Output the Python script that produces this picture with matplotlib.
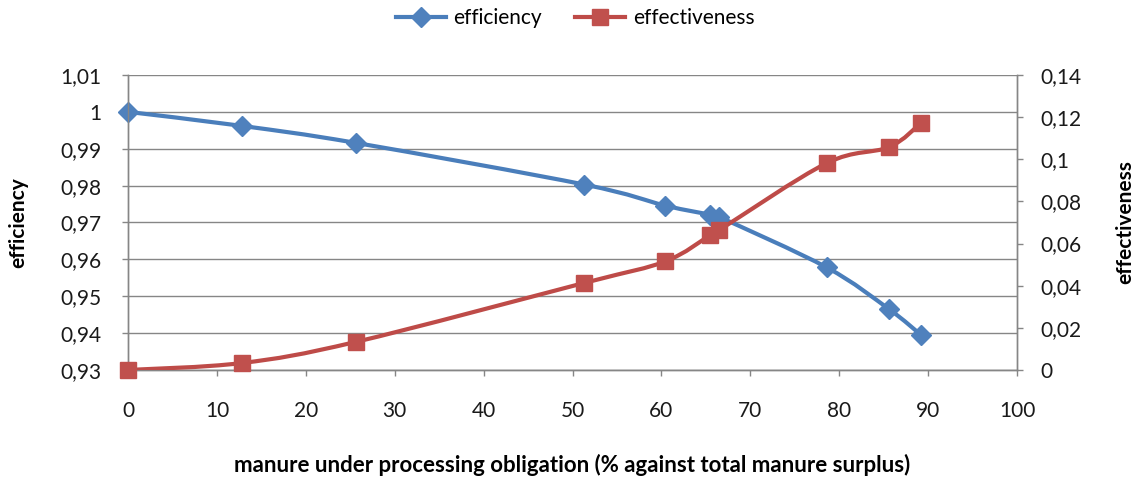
import matplotlib.pyplot as plt
import numpy as np
from matplotlib.path import Path
from matplotlib.patches import PathPatch
from matplotlib.lines import Line2D
from matplotlib.ticker import FuncFormatter

plt.rcParams['font.family'] = ['Lato', 'DejaVu Sans']

# data
share = [0, 12.8, 25.6, 51.3, 60.4, 65.5, 66.5, 78.6, 85.6, 89.2]
efficiency = [1.0, 0.9962, 0.9916, 0.9803, 0.9746, 0.9721, 0.9715, 0.9578, 0.9465, 0.9395]
effectiveness = [0.0, 0.0033, 0.0133, 0.0413, 0.0515, 0.0640, 0.0664, 0.0982, 0.1058, 0.1172]

blue_line = '#4A7EBB'
blue_fill = '#4F81BD'
red_line = '#BE4B48'
red_fill = '#C0504D'
grey = '#868686'
fs = 15


def smooth_path(xs, ys):
    # Excel style smoothed line: cubic bezier with catmull-rom control points
    pts = np.column_stack([xs, ys])
    n = len(pts)
    verts = [pts[0]]
    codes = [Path.MOVETO]
    for i in range(n - 1):
        p0 = pts[max(i - 1, 0)]
        p1 = pts[i]
        p2 = pts[i + 1]
        p3 = pts[min(i + 2, n - 1)]
        c1 = p1 + (p2 - p0) / 6.0
        c2 = p2 - (p3 - p1) / 6.0
        verts += [c1, c2, p2]
        codes += [Path.CURVE4] * 3
    return Path(verts, codes)


fig = plt.figure(figsize=[11.39, 4.79], dpi=100)
ax = fig.add_axes([0.1124, 0.2276, 0.7805, 0.6158])
ax2 = ax.twinx()

ax.set_xlim(0, 100)
ax.set_ylim(0.93, 1.01)
ax2.set_ylim(0, 0.14)
ax.set_xticks(np.arange(0, 101, 10))
ax.set_yticks(np.arange(0.93, 1.0101, 0.01))
ax2.set_yticks(np.arange(0, 0.1401, 0.02))

comma = FuncFormatter(lambda v, p: ('%g' % round(v, 4)).replace('.', ','))
ax.yaxis.set_major_formatter(comma)
ax2.yaxis.set_major_formatter(comma)

ax.yaxis.grid(True, color=grey, lw=1.0)
ax.set_axisbelow(True)

for a in (ax, ax2):
    a.spines['top'].set_visible(False)
    for s in ('left', 'right', 'bottom'):
        a.spines[s].set_color(grey)
        a.spines[s].set_linewidth(1.0)
    a.tick_params(colors=grey, labelcolor='#1a1a1a', labelsize=fs, length=4, width=1.0)
ax.tick_params(axis='x', pad=18)
ax.tick_params(axis='y', pad=15)
ax2.tick_params(axis='y', pad=13)

# smoothed lines
ax.add_patch(PathPatch(smooth_path(share, efficiency), fill=False, ec=blue_line, lw=3.0,
                       capstyle='round', zorder=3))
ax2.add_patch(PathPatch(smooth_path(share, effectiveness), fill=False, ec=red_line, lw=3.0,
                        capstyle='round', zorder=3))

ax.plot(share, efficiency, ls='none', marker='D', ms=10.5, mfc=blue_fill, mec=blue_fill,
        zorder=4, clip_on=False)
ax2.plot(share, effectiveness, ls='none', marker='s', ms=12, mfc=red_fill, mec=red_fill,
         zorder=4, clip_on=False)

ax.set_ylabel('efficiency', fontsize=fs, fontweight='bold', va='center')
ax.yaxis.set_label_coords(-0.124, 0.5)
ax2.set_ylabel('effectiveness', fontsize=fs, fontweight='bold', va='center')
ax2.yaxis.set_label_coords(1.1215, 0.5)
ax.set_xlabel('manure under processing obligation (% against total manure surplus)',
              fontsize=16, fontweight='bold', va='center')
ax.xaxis.set_label_coords(0.5, -0.322)

handles = [Line2D([], [], color=blue_line, lw=3.0, marker='D', ms=10.5, mfc=blue_fill, mec=blue_fill),
           Line2D([], [], color=red_line, lw=3.0, marker='s', ms=12, mfc=red_fill, mec=red_fill)]
fig.legend(handles, ['efficiency', 'effectiveness'], loc='center',
           bbox_to_anchor=(0.505, 0.962), ncol=2, frameon=False, fontsize=fs,
           handlelength=2.4, columnspacing=1.6, handletextpad=0.35)

plt.savefig('out.png', dpi=100)
